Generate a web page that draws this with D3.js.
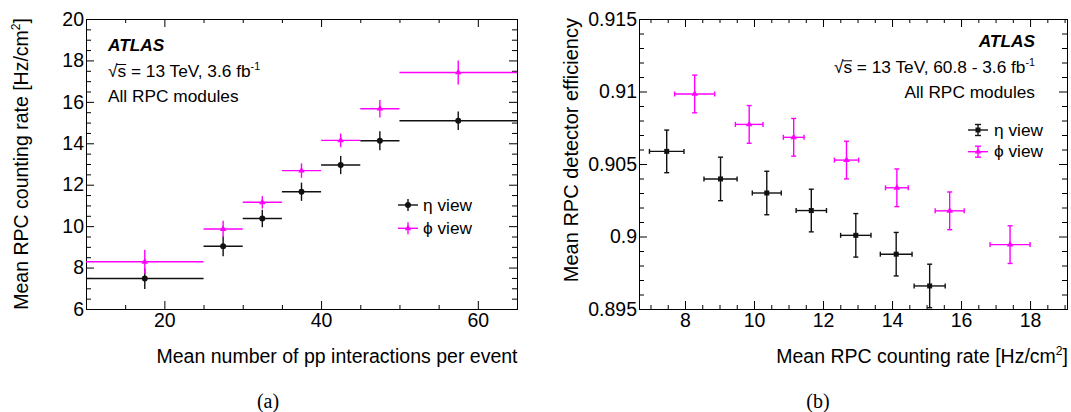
<!DOCTYPE html>
<html><head><meta charset="utf-8">
<script src="https://cdn.jsdelivr.net/npm/d3@7"></script>
<style>
body{margin:0;background:#fff;}
svg{display:block;font-family:"Liberation Sans",Arial,Helvetica,sans-serif;}
</style></head><body>
<svg id="c" width="1071" height="412"></svg>
<script>
// ---------- data ----------
const muEdges    = [10, 25, 30, 35, 40, 45, 50, 65];
const etaRate    = [7.47, 9.03, 10.37, 11.66, 12.95, 14.12, 15.09];
const etaRateErr = [0.50, 0.48, 0.42, 0.44, 0.44, 0.46, 0.45];
const phiRate    = [8.28, 9.86, 11.15, 12.68, 14.14, 15.67, 17.42];
const phiRateErr = [0.58, 0.40, 0.30, 0.35, 0.33, 0.42, 0.58];
const etaEff     = [0.90587, 0.90397, 0.90300, 0.90179, 0.90008, 0.89878, 0.89659];
const etaEffErr  = [0.00147, 0.00150, 0.00150, 0.00147, 0.00150, 0.00150, 0.00150];
const phiEff     = [0.90983, 0.90773, 0.90684, 0.90527, 0.90336, 0.90177, 0.89944];
const phiEffErr  = [0.00130, 0.00130, 0.00130, 0.00130, 0.00130, 0.00130, 0.00130];
const xTicksA = [20, 40, 60];
const yTicksA = [6, 8, 10, 12, 14, 16, 18, 20];
const xTicksB = [8, 10, 12, 14, 16, 18];
const yTicksB = [0.895, 0.9, 0.905, 0.91, 0.915];
const seriesNames = ["η view", "ϕ view"];

const BLACK = "#111", MAG = "#ff00ff";
const TICKFS = 19.5;
const svg = d3.select("#c");

function drawAxes(g, x, y, o) {
  const [x0, x1] = x.range(), [y0, y1] = y.range();
  const addAxis = (axis, tx, ty) => {
    const a = g.append("g").attr("transform", `translate(${tx},${ty})`).call(axis);
    a.select(".domain").remove();
    a.selectAll("line").attr("stroke", "#000").attr("stroke-width", 1);
    a.selectAll("text").attr("font-size", TICKFS).attr("fill", "#000")
      .attr("font-family", '"Liberation Sans",Arial,Helvetica,sans-serif');
    return a;
  };
  addAxis(d3.axisBottom(x).tickValues(o.xMajor).tickSize(-8).tickPadding(4).tickFormat(o.xFmt), 0, y0);
  addAxis(d3.axisBottom(x).tickValues(o.xMinor).tickSize(-4).tickFormat(""), 0, y0);
  addAxis(d3.axisTop(x).tickValues(o.xMajor).tickSize(-8).tickFormat(""), 0, y1);
  addAxis(d3.axisTop(x).tickValues(o.xMinor).tickSize(-4).tickFormat(""), 0, y1);
  addAxis(d3.axisLeft(y).tickValues(o.yMajor).tickSize(-8).tickPadding(2).tickFormat(o.yFmt), x0, 0);
  addAxis(d3.axisLeft(y).tickValues(o.yMinor).tickSize(-5).tickFormat(""), x0, 0);
  addAxis(d3.axisRight(y).tickValues(o.yMajor).tickSize(-8).tickFormat(""), x1, 0);
  addAxis(d3.axisRight(y).tickValues(o.yMinor).tickSize(-5).tickFormat(""), x1, 0);
  g.append("rect").attr("x", x0 + 0.5).attr("y", y1 + 0.5)
    .attr("width", x1 - x0).attr("height", y0 - y1)
    .attr("fill", "none").attr("stroke", "#000").attr("stroke-width", 1);
}

function richText(g, x, y, parts, opts = {}) {
  const fs = opts.size || 17;
  const t = g.append("text").attr("x", x).attr("y", y)
    .attr("font-size", fs).attr("fill", "#000")
    .attr("text-anchor", opts.anchor || "start");
  if (opts.transform) t.attr("transform", opts.transform);
  let sup = false;
  parts.forEach(([s, isSup]) => {
    const ts = t.append("tspan").text(s);
    if (isSup && !sup) { ts.attr("dy", -0.42 * fs).attr("font-size", fs * 0.62); sup = true; }
    else if (!isSup && sup) { ts.attr("dy", 0.42 * fs); sup = false; }
  });
  return t;
}

function sqrtOverline(g, t) {
  const n = t.node();
  const e = n.getExtentOfChar(1);
  const e0 = n.getExtentOfChar(0);
  g.append("line").attr("x1", e0.x + e0.width - 1).attr("x2", e.x + e.width)
    .attr("y1", e.y + 3.5).attr("y2", e.y + 3.5)
    .attr("stroke", "#000").attr("stroke-width", 1);
}

// ---------------- Panel (a) ----------------
{
  const g = svg.append("g");
  const x = d3.scaleLinear().domain([10, 65]).range([86, 517]);
  const y = d3.scaleLinear().domain([6, 20]).range([309, 19]);
  drawAxes(g, x, y, {
    xMajor: xTicksA, xMinor: d3.range(15, 65, 5).filter(v => v % 20 !== 0),
    yMajor: yTicksA, yMinor: d3.range(6.5, 20, 0.5).filter(v => v % 2 !== 0),
    xFmt: d3.format("d"), yFmt: d3.format("d")
  });
  g.append("clipPath").attr("id", "clipA").append("rect")
    .attr("x", 86).attr("y", 19).attr("width", 432).attr("height", 291);
  const d = g.append("g").attr("clip-path", "url(#clipA)");
  const bins = d3.range(7).map(i => ({lo: muEdges[i], hi: muEdges[i + 1], c: (muEdges[i] + muEdges[i + 1]) / 2}));
  const series = [
    {v: etaRate, e: etaRateErr, col: BLACK, sym: "circle"},
    {v: phiRate, e: phiRateErr, col: MAG, sym: "tri"}
  ];
  series.forEach(s => {
    bins.forEach((b, i) => {
      d.append("line").attr("x1", x(b.lo)).attr("x2", x(b.hi)).attr("y1", y(s.v[i])).attr("y2", y(s.v[i]))
        .attr("stroke", s.col).attr("stroke-width", 1.4);
      d.append("line").attr("x1", x(b.c)).attr("x2", x(b.c)).attr("y1", y(s.v[i] - s.e[i])).attr("y2", y(s.v[i] + s.e[i]))
        .attr("stroke", s.col).attr("stroke-width", 1.4);
      if (s.sym === "circle") d.append("circle").attr("cx", x(b.c)).attr("cy", y(s.v[i])).attr("r", 3).attr("fill", s.col);
      else d.append("path").attr("d", d3.symbol(d3.symbolTriangle, 18)()).attr("transform", `translate(${x(b.c)},${y(s.v[i])})`).attr("fill", s.col);
    });
  });
  g.append("text").attr("x", 108).attr("y", 51).attr("font-size", 17.3).attr("font-weight", "bold")
    .attr("font-style", "italic").text("ATLAS");
  const t = richText(g, 108, 77, [["√s = 13 TeV, 3.6 fb"], ["-1", true]], {size: 17.3});
  sqrtOverline(g, t);
  richText(g, 108, 101.5, [["All RPC modules"]], {size: 17.3});
  [[205, BLACK, "circle"], [228.3, MAG, "tri"]].forEach(([cy, col, sym], i) => {
    g.append("line").attr("x1", 398).attr("x2", 418).attr("y1", cy).attr("y2", cy).attr("stroke", col).attr("stroke-width", 1.4);
    g.append("line").attr("x1", 408).attr("x2", 408).attr("y1", cy - 6).attr("y2", cy + 6).attr("stroke", col).attr("stroke-width", 1.4);
    if (sym === "circle") g.append("circle").attr("cx", 408).attr("cy", cy).attr("r", 3).attr("fill", col);
    else g.append("path").attr("d", d3.symbol(d3.symbolTriangle, 18)()).attr("transform", `translate(408,${cy})`).attr("fill", col);
    g.append("text").attr("x", 423).attr("y", cy + 6).attr("font-size", 17.3).text(seriesNames[i]);
  });
  richText(g, 517.5, 363, [["Mean number of pp interactions per event"]], {size: 19.5, anchor: "end"});
  richText(g, 0, 0, [["Mean RPC counting rate [Hz/cm"], ["2", true], ["]"]],
    {size: 19.5, anchor: "end", transform: "translate(28,18) rotate(-90)"});
  g.append("text").attr("x", 268).attr("y", 408).attr("text-anchor", "middle")
    .attr("font-family", '"Liberation Serif","Times New Roman",serif').attr("font-size", 20).text("(a)");
}

// ---------------- Panel (b) ----------------
{
  const g = svg.append("g");
  const x = d3.scaleLinear().domain([6.667, 19.07]).range([639, 1067]);
  const y = d3.scaleLinear().domain([0.895, 0.915]).range([309, 19]);
  drawAxes(g, x, y, {
    xMajor: xTicksB, xMinor: d3.range(7, 19.5, 0.5).filter(v => v % 2 !== 0),
    yMajor: yTicksB, yMinor: d3.range(0.896, 0.915, 0.001).filter(v => Math.abs(v * 200 - Math.round(v * 200)) > 1e-6),
    xFmt: d3.format("d"), yFmt: v => String(+v.toFixed(3))
  });
  g.append("clipPath").attr("id", "clipB").append("rect")
    .attr("x", 639).attr("y", 19).attr("width", 429).attr("height", 291);
  const d = g.append("g").attr("clip-path", "url(#clipB)");
  const series = [
    {xv: etaRate, xe: etaRateErr, v: etaEff, e: etaEffErr, col: BLACK, sym: "sq"},
    {xv: phiRate, xe: phiRateErr, v: phiEff, e: phiEffErr, col: MAG, sym: "tri"}
  ];
  const cap = 2.5;
  series.forEach(s => {
    s.v.forEach((val, i) => {
      const cx = x(s.xv[i]), cy = y(val);
      const xl = x(s.xv[i] - s.xe[i]), xr = x(s.xv[i] + s.xe[i]);
      const yt = y(val + s.e[i]), yb = y(val - s.e[i]);
      const ln = (a, b, c, e) => d.append("line").attr("x1", a).attr("y1", b).attr("x2", c).attr("y2", e)
        .attr("stroke", s.col).attr("stroke-width", 1.4);
      ln(xl, cy, xr, cy); ln(cx, yt, cx, yb);
      ln(xl, cy - cap, xl, cy + cap); ln(xr, cy - cap, xr, cy + cap);
      ln(cx - cap, yt, cx + cap, yt); ln(cx - cap, yb, cx + cap, yb);
      if (s.sym === "sq") d.append("rect").attr("x", cx - 2.5).attr("y", cy - 2.5).attr("width", 5).attr("height", 5).attr("fill", s.col);
      else d.append("path").attr("d", d3.symbol(d3.symbolTriangle, 18)()).attr("transform", `translate(${cx},${cy})`).attr("fill", s.col);
    });
  });
  g.append("text").attr("x", 1035).attr("y", 47).attr("text-anchor", "end").attr("font-size", 17.3)
    .attr("font-weight", "bold").attr("font-style", "italic").text("ATLAS");
  const t = richText(g, 1035, 73.3, [["√s = 13 TeV, 60.8 - 3.6 fb"], ["-1", true]], {anchor: "end", size: 17.3});
  sqrtOverline(g, t);
  richText(g, 1035, 98.3, [["All RPC modules"]], {anchor: "end", size: 17.3});
  [[130, BLACK, "sq"], [151.7, MAG, "tri"]].forEach(([cy, col, sym], i) => {
    const ln = (a, b, c, e) => g.append("line").attr("x1", a).attr("y1", b).attr("x2", c).attr("y2", e)
      .attr("stroke", col).attr("stroke-width", 1.4);
    ln(968, cy, 988, cy); ln(978, cy - 5.5, 978, cy + 5.5);
    ln(975, cy - 5.5, 981, cy - 5.5); ln(975, cy + 5.5, 981, cy + 5.5);
    if (sym === "sq") g.append("rect").attr("x", 975.5).attr("y", cy - 2.5).attr("width", 5).attr("height", 5).attr("fill", col);
    else g.append("path").attr("d", d3.symbol(d3.symbolTriangle, 18)()).attr("transform", `translate(978,${cy})`).attr("fill", col);
    g.append("text").attr("x", 994).attr("y", cy + 5.5).attr("font-size", 17.3).text(seriesNames[i]);
  });
  richText(g, 1068, 363, [["Mean RPC counting rate [Hz/cm"], ["2", true], ["]"]], {size: 19.5, anchor: "end"});
  richText(g, 0, 0, [["Mean RPC detector efficiency"]],
    {size: 20, anchor: "end", transform: "translate(577.5,18) rotate(-90)"});
  g.append("text").attr("x", 818).attr("y", 408).attr("text-anchor", "middle")
    .attr("font-family", '"Liberation Serif","Times New Roman",serif').attr("font-size", 20).text("(b)");
}
</script>
</body></html>
